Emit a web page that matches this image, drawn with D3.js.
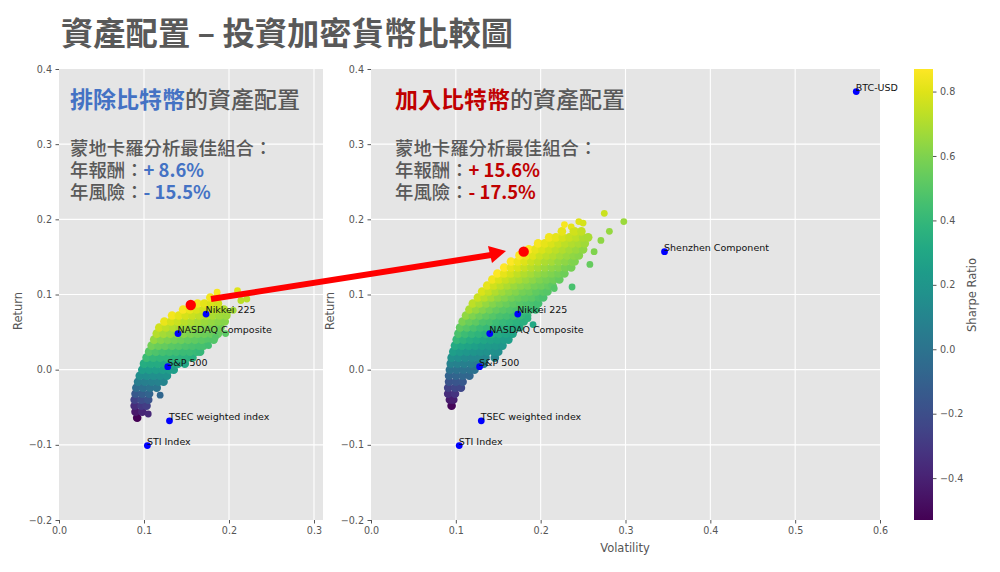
<!DOCTYPE html>
<html><head><meta charset="utf-8">
<script src="https://cdn.jsdelivr.net/npm/d3@7"></script>
<style>
html,body{margin:0;padding:0;background:#fff}
svg{display:block}
.tick text,.axl{font-family:"DejaVu Sans",sans-serif;font-size:9.6px;fill:#555}
.cjk{font-family:"Noto Sans CJK TC",sans-serif}
</style></head><body><svg id="c" width="1000" height="572"></svg>
<script>
// Monte-Carlo cloud, row by row: one return, its volatilities and Sharpe ratios
const leftRets=[-.064,-.056,-.048,-.04,-.032,-.024,-.016,-.008,0,.008,.016,.024,.032,.04,.048,.056,.064,.072,.08,.088,.096];
const leftVols=[[.092],[.09,.098],[.089,.097,.103],[.089,.097,.105],[.09,.098,.106],[.091,.099,.107,.115],[.093,.101,.109,.117,.123],[.095,.103,.111,.119,.127],[.098,.106,.114,.122,.13,.135],[.1,.108,.116,.124,.132,.14,.148],[.103,.111,.119,.127,.135,.143,.151,.157],[.106,.114,.122,.13,.138,.146,.154,.162,.166],[.109,.117,.125,.133,.141,.149,.157,.165,.17],[.112,.12,.128,.136,.144,.152,.16,.168,.176,.182],[.115,.123,.131,.139,.147,.155,.163,.171,.179,.187],[.118,.126,.134,.142,.15,.158,.166,.174,.182,.19],[.124,.132,.14,.148,.156,.164,.172,.18,.188,.195],[.133,.141,.149,.157,.165,.173,.181,.189,.197],[.146,.154,.162,.17,.178,.186,.194],[.163,.171,.179,.187],[.178,.186]];
const leftSharpes=[[-.7],[-.62,-.57],[-.54,-.49,-.47],[-.45,-.41,-.38],[-.36,-.33,-.3],[-.26,-.24,-.22,-.21],[-.17,-.16,-.15,-.14,-.13],[-.08,-.08,-.07,-.07,-.06],[0,0,0,0,0,0],[.08,.07,.07,.06,.06,.06,.05],[.16,.14,.13,.13,.12,.11,.11,.1],[.23,.21,.19,.18,.17,.16,.16,.15,.14],[.29,.27,.26,.24,.23,.21,.2,.19,.19],[.36,.33,.31,.29,.28,.26,.25,.24,.23,.22],[.42,.39,.37,.35,.33,.31,.29,.28,.27,.26],[.47,.44,.42,.39,.37,.35,.34,.32,.31,.29],[.52,.48,.46,.43,.41,.39,.37,.36,.34,.33],[.54,.51,.48,.46,.44,.42,.4,.38,.37],[.55,.52,.49,.47,.45,.43,.41],[.54,.51,.49,.47],[.54,.52]];
const leftOutliers=[[.186,.103,.55],[.21,.105,.5],[.214,.092,.43],[.221,.094,.43],[.198,.076,.38],[.205,.079,.39],[.176,.032,.18],[.196,.048,.24],[.105,-.059,-.56],[.119,-.034,-.29],[.184,.043,.23]];

const rightRets=[-.048,-.04,-.032,-.024,-.016,-.008,0,.008,.016,.024,.032,.04,.048,.056,.064,.072,.08,.088,.096,.104,.112,.12,.128,.136,.144,.152,.16,.168,.176,.184];
const rightVols=[[.095],[.093,.097],[.091,.099],[.091,.099,.106],[.092,.1,.108],[.092,.1,.108,.116],[.093,.101,.109,.117,.122],[.094,.102,.11,.118,.126,.133],[.095,.103,.111,.119,.127,.135,.146],[.097,.105,.113,.121,.129,.137,.145,.15],[.099,.107,.115,.123,.131,.139,.147,.155],[.101,.109,.117,.125,.133,.141,.149,.157,.162],[.103,.111,.119,.127,.135,.143,.151,.159,.167],[.105,.113,.121,.129,.137,.145,.153,.161,.169,.175],[.108,.116,.124,.132,.14,.148,.156,.164,.172,.18],[.112,.12,.128,.136,.144,.152,.16,.168,.176,.184],[.116,.124,.132,.14,.148,.156,.164,.172,.18,.188,.194],[.12,.128,.136,.144,.152,.16,.168,.176,.184,.192,.197],[.126,.134,.142,.15,.158,.166,.174,.182,.19,.198,.203],[.131,.139,.147,.155,.163,.171,.179,.187,.195,.203,.208],[.137,.145,.153,.161,.169,.177,.185,.193,.201,.209,.214],[.143,.151,.159,.167,.175,.183,.191,.199,.207,.215,.222],[.149,.157,.165,.173,.181,.189,.197,.205,.213,.221,.228],[.157,.165,.173,.181,.189,.197,.205,.213,.221,.229,.236],[.165,.173,.181,.189,.197,.205,.213,.221,.229,.237,.24],[.175,.183,.191,.199,.207,.215,.223,.231,.239,.245],[.186,.194,.202,.21,.218,.226,.234,.242,.25],[.197,.205,.213,.221,.229,.237,.245,.252],[.21,.218,.226,.234,.242,.25,.256],[.225,.24,.248]];
const rightSharpes=[[-.51],[-.43,-.41],[-.35,-.32],[-.26,-.24,-.23],[-.17,-.16,-.15],[-.09,-.08,-.07,-.07],[0,0,0,0,0],[.09,.08,.07,.07,.06,.06],[.17,.16,.14,.13,.13,.12,.11],[.25,.23,.21,.2,.19,.18,.17,.16],[.32,.3,.28,.26,.24,.23,.22,.21],[.4,.37,.34,.32,.3,.28,.27,.25,.25],[.47,.43,.4,.38,.36,.34,.32,.3,.29],[.53,.5,.46,.43,.41,.39,.37,.35,.33,.32],[.59,.55,.52,.48,.46,.43,.41,.39,.37,.36],[.64,.6,.56,.53,.5,.47,.45,.43,.41,.39],[.69,.65,.61,.57,.54,.51,.49,.47,.44,.43,.41],[.73,.69,.65,.61,.58,.55,.52,.5,.48,.46,.45],[.76,.72,.68,.64,.61,.58,.55,.53,.51,.48,.47],[.79,.75,.71,.67,.64,.61,.58,.56,.53,.51,.5],[.82,.77,.73,.7,.66,.63,.61,.58,.56,.54,.52],[.84,.79,.75,.72,.69,.66,.63,.6,.58,.56,.54],[.86,.82,.78,.74,.71,.68,.65,.62,.6,.58,.56],[.87,.82,.79,.75,.72,.69,.66,.64,.62,.59,.58],[.87,.83,.8,.76,.73,.7,.68,.65,.63,.61,.6],[.87,.83,.8,.76,.73,.71,.68,.66,.64,.62],[.86,.82,.79,.76,.73,.71,.68,.66,.64],[.85,.82,.79,.76,.73,.71,.69,.67],[.84,.81,.78,.75,.73,.7,.69],[.82,.77,.74]];
const rightOutliers=[[.275,.208,.76],[.298,.197,.66],[.281,.184,.65],[.271,.172,.63],[.263,.157,.6],[.258,.14,.54],[.237,.11,.46],[.216,.108,.5],[.185,.068,.37],[.191,.06,.31],[.228,.193,.85],[.236,.19,.81],[.238,.184,.77],[.245,.197,.8],[.25,.195,.78]];

const assetNames=["Nikkei 225","NASDAQ Composite","S&P 500","TSEC weighted index","STI Index"];
const assetVols=[.173,.14,.128,.13,.104];
const assetRets=[.074,.048,.004,-.068,-.101];
const extraNames=["BTC-USD","Shenzhen Component"];
const extraVols=[.572,.346];
const extraRets=[.37,.157];
const bestLeft=[.155,.086];
const bestRight=[.18,.157];
const retTicks=[-.2,-.1,0,.1,.2,.3,.4];
const leftVolTicks=[0,.1,.2,.3];
const rightVolTicks=[0,.1,.2,.3,.4,.5,.6];
const barTicks=[-.4,-.2,0,.2,.4,.6,.8];

const svg=d3.select("#c");
const fmt=d=>d3.format(".1f")(d).replace("-","\u2212");
const rows=(rets,vols,sh)=>rets.flatMap((r,i)=>vols[i].map((v,j)=>[v,r,sh[i][j]]));

function panel(o){
  const x=d3.scaleLinear().domain(o.xd).range(o.xr);
  const y=d3.scaleLinear().domain([-.2,.4]).range([520,69]);
  const g=svg.append("g");
  g.append("rect").attr("x",o.xr[0]).attr("y",69).attr("width",o.xr[1]-o.xr[0]).attr("height",451).attr("fill","#e5e5e5");
  g.append("g").selectAll("line").data(o.xt.slice(1,o.xt.length-(o.xd[1]===.6?1:0))).join("line")
    .attr("x1",d=>x(d)).attr("x2",d=>x(d)).attr("y1",69).attr("y2",520).attr("stroke","#fff").attr("stroke-width",1.1);
  g.append("g").selectAll("line").data(retTicks.slice(1,-1)).join("line")
    .attr("x1",o.xr[0]).attr("x2",o.xr[1]).attr("y1",d=>y(d)).attr("y2",d=>y(d)).attr("stroke","#fff").attr("stroke-width",1.1);
  const ax=g.append("g").attr("transform","translate(0,520)").call(d3.axisBottom(x).tickValues(o.xt).tickFormat(fmt).tickSize(3.5).tickPadding(3.5));
  const ay=g.append("g").attr("transform",`translate(${o.xr[0]},0)`).call(d3.axisLeft(y).tickValues(retTicks).tickFormat(fmt).tickSize(3.5).tickPadding(3.5));
  [ax,ay].forEach(a=>{a.select(".domain").remove();a.selectAll("line").attr("stroke","#555")});
  const c=d3.scaleSequential(d3.interpolateViridis).domain(o.cd);
  g.append("g").selectAll("circle").data(o.cloud).join("circle")
    .attr("cx",d=>x(d[0])).attr("cy",d=>y(d[1])).attr("r",d=>d[3]?3.4:4.3).attr("fill",d=>c(d[2]));
  g.append("circle").attr("cx",x(o.best[0])).attr("cy",y(o.best[1])).attr("r",5.2).attr("fill","#ff0000");
  g.append("g").selectAll("circle").data(o.assets).join("circle")
    .attr("cx",d=>x(d.v)).attr("cy",d=>y(d.r)).attr("r",3.4).attr("fill","#0000ff");
  g.append("g").selectAll("text").data(o.assets).join("text")
    .attr("x",d=>x(d.v)-.5).attr("y",d=>y(d.r)-1).text(d=>d.n)
    .attr("font-family","'DejaVu Sans',sans-serif").attr("font-size",9.5).attr("fill","#111");
  g.append("text").attr("class","axl").attr("transform",`translate(${o.xr[0]-41},311) rotate(-90)`)
    .attr("text-anchor","middle").attr("dy","0.35em").style("font-size","11.5px").text("Return");
  // annotation text
  const t=g.append("g").attr("class","cjk");
  const tx=o.tx;
  const h=t.append("text").attr("x",tx).attr("y",108).attr("font-size",23).attr("font-weight",500).attr("fill","#595959");
  h.append("tspan").attr("fill",o.col).attr("font-weight",700).text(o.head);
  h.append("tspan").text("的資產配置");
  t.append("text").attr("x",tx).attr("y",155).attr("font-size",18.4).attr("font-weight",500).attr("fill","#595959").text("蒙地卡羅分析最佳組合：");
  [["年報酬：",o.ret,177],["年風險：",o.risk,198.5]].forEach(l=>{
    const e=t.append("text").attr("x",tx).attr("y",l[2]).attr("font-size",18.4).attr("font-weight",500).attr("fill","#595959");
    e.append("tspan").text(l[0]);
    e.append("tspan").attr("fill",o.col).attr("font-weight",700).text(l[1]);
  });
}

const assets=assetNames.map((n,i)=>({n,v:assetVols[i],r:assetRets[i]}));
const extras=extraNames.map((n,i)=>({n,v:extraVols[i],r:extraRets[i]}));
const mark=a=>[a[0],a[1],a[2],1];
panel({xd:[0,.3106],xr:[59,323],xt:leftVolTicks,cd:[-.7,.56],
  cloud:rows(leftRets,leftVols,leftSharpes).concat(leftOutliers.map(mark)),best:bestLeft,assets,
  tx:70,col:"#4472c4",head:"排除比特幣",ret:"+ 8.6%",risk:"- 15.5%"});
panel({xd:[0,.6],xr:[371,880],xt:rightVolTicks,cd:[-.53,.87],
  cloud:rows(rightRets,rightVols,rightSharpes).concat(rightOutliers.map(mark)),best:bestRight,assets:assets.concat(extras),
  tx:395,col:"#c00000",head:"加入比特幣",ret:"+ 15.6%",risk:"- 17.5%"});

svg.append("text").attr("class","axl").attr("x",625).attr("y",552).attr("text-anchor","middle").style("font-size","11.5px").text("Volatility");

// colour bar
const cb=d3.scaleLinear().domain([-.53,.87]).range([520,69]);
const grad=svg.append("defs").append("linearGradient").attr("id","vir").attr("x1",0).attr("x2",0).attr("y1",1).attr("y2",0);
d3.range(0,1.001,.05).forEach(t=>grad.append("stop").attr("offset",t).attr("stop-color",d3.interpolateViridis(t)));
svg.append("rect").attr("x",914).attr("y",69).attr("width",19).attr("height",451).attr("fill","url(#vir)");
const bar=svg.append("g").attr("transform","translate(933,0)").call(d3.axisRight(cb).tickValues(barTicks).tickFormat(fmt).tickSize(3.5).tickPadding(3.5));
bar.select(".domain").remove();bar.selectAll("line").attr("stroke","#555");
svg.append("text").attr("class","axl").attr("transform","translate(972,295) rotate(-90)").attr("text-anchor","middle").attr("dy","0.35em").style("font-size","11.5px").text("Sharpe Ratio");

// arrow between the two best portfolios
svg.append("path").attr("d","M211,299L491,255").attr("stroke","#ff0000").attr("stroke-width",6).attr("fill","none");
svg.append("path").attr("d","M506,251L488,246L492,263Z").attr("fill","#ff0000");

// title
svg.append("text").attr("class","cjk").attr("x",61).attr("y",45).attr("font-size",32.3).attr("font-weight",700).attr("fill","#595959").text("資產配置 – 投資加密貨幣比較圖");
</script></body></html>
